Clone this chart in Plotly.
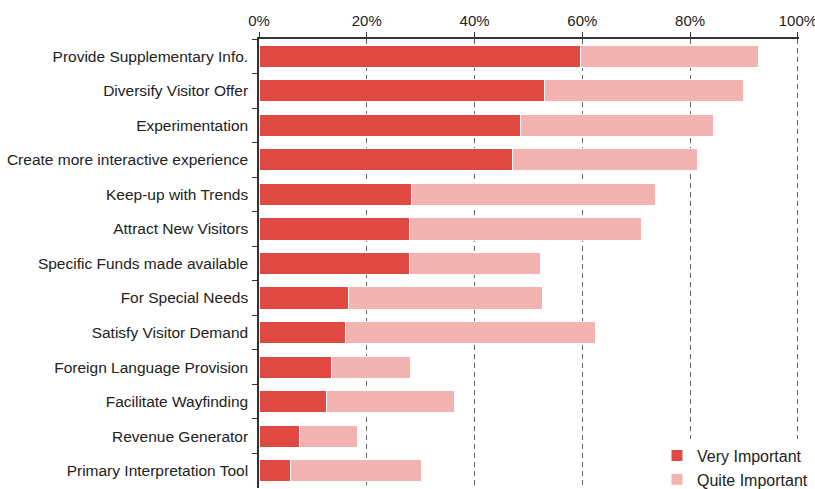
import plotly.graph_objects as go

# Reasons for adopting the technology, share of respondents
categories = [
    "Provide Supplementary Info.",
    "Diversify Visitor Offer",
    "Experimentation",
    "Create more interactive experience",
    "Keep-up with Trends",
    "Attract New Visitors",
    "Specific Funds made available",
    "For Special Needs",
    "Satisfy Visitor Demand",
    "Foreign Language Provision",
    "Facilitate Wayfinding",
    "Revenue Generator",
    "Primary Interpretation Tool",
]
very_important = [59.7, 53.0, 48.5, 47.1, 28.3, 27.9, 27.9, 16.6, 16.0, 13.4, 12.6, 7.5, 5.8]
quite_important = [32.9, 36.9, 35.9, 34.2, 45.2, 43.1, 24.3, 36.0, 46.4, 14.8, 23.7, 10.8, 24.3]
x_ticks = [0, 20, 40, 60, 80, 100]
x_tick_labels = ["0%", "20%", "40%", "60%", "80%", "100%"]

DARK = "#E04842"
LIGHT = "#F3B4B1"
FONT = "Liberation Sans, Arial, Helvetica, sans-serif"

fig = go.Figure()
fig.add_trace(go.Bar(
    y=categories, x=very_important, orientation="h", name="Very Important",
    marker=dict(color=DARK, line=dict(color="white", width=1)),
))
fig.add_trace(go.Bar(
    y=categories, x=quite_important, orientation="h", name="Quite Important",
    marker=dict(color=LIGHT, line=dict(color="white", width=1)),
))

fig.update_layout(
    barmode="stack",
    bargap=0.36,
    width=815, height=489,
    margin=dict(l=259, r=16, t=39, b=1, autoexpand=False),
    plot_bgcolor="white", paper_bgcolor="white",
    font=dict(family=FONT, size=15, color="#222222"),
    showlegend=True,
    legend=dict(
        x=0.737, y=0.11, xanchor="left", yanchor="top",
        bgcolor="white", font=dict(size=16, color="#222222"),
        traceorder="normal", itemwidth=30, tracegroupgap=0,
    ),
    xaxis=dict(
        side="top", range=[0, 100.2], tickvals=x_ticks, ticktext=x_tick_labels,
        showgrid=True, gridcolor="#666666", griddash="5px,4px", gridwidth=1,
        showline=True, linecolor="#333333", linewidth=1.5,
        ticks="outside", ticklen=5, tickcolor="#333333", automargin=False,
        ticklabeloverflow="allow",
        tickfont=dict(size=15, color="#222222"), zeroline=False,
    ),
    yaxis=dict(
        autorange="reversed", categoryorder="array", categoryarray=categories,
        showline=True, linecolor="#333333", linewidth=1.5, automargin=False,
        ticks="outside", ticklen=5, tickcolor="#333333", tickson="boundaries",
        ticklabelstandoff=6, showgrid=False,
        tickfont=dict(size=15.5, color="#222222"),
    ),
)

fig.write_html("out.html")
